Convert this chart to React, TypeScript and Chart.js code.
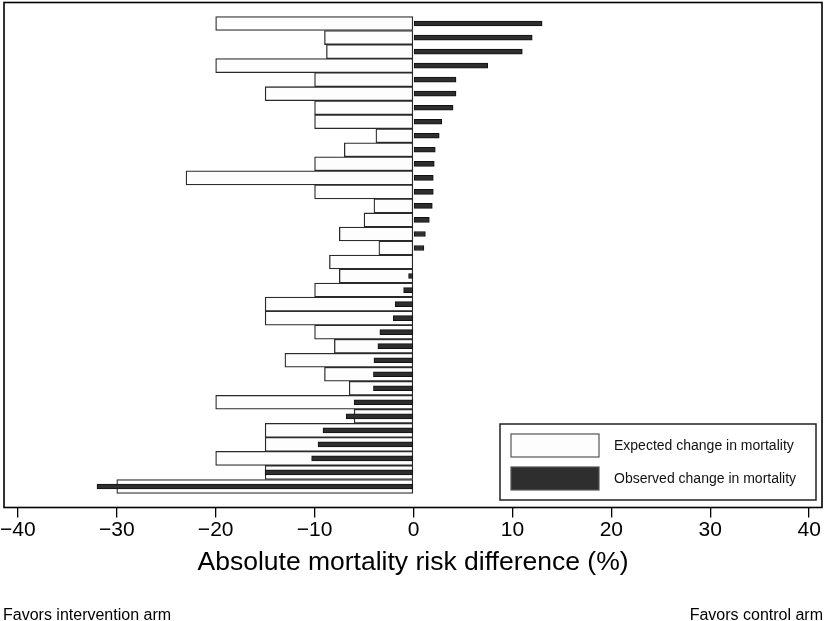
import { useEffect, useRef } from 'react';
import { Chart, registerables } from 'chart.js';

Chart.register(...registerables);

// Expected (white) and observed (black) absolute mortality risk differences, %, one per trial (top to bottom)
const expectedChange = [
  -20, -9, -8.8, -20, -10, -15, -10, -10, -3.8, -7, -10, -23, -10, -4, -5, -7.5, -3.5,
  -8.5, -7.5, -10, -15, -15, -10, -8, -13, -9, -6.5, -20, -6, -15, -15, -20, -15, -30,
];
const observedChange = [
  13, 12, 11, 7.5, 4.3, 4.3, 4, 2.85, 2.6, 2.2, 2.1, 2, 2, 1.9, 1.6, 1.2, 1.05,
  0, -0.5, -1, -1.85, -2.05, -3.4, -3.6, -4, -4.05, -4.05, -6, -6.8, -9.15, -9.65, -10.3, -15, -32,
];
const trialRows = expectedChange.map((_, i) => i + 1);
const xTickValues = [-40, -30, -20, -10, 0, 10, 20, 30, 40];
const axisTitle = 'Absolute mortality risk difference (%)';
const leftNote = 'Favors intervention arm';
const rightNote = 'Favors control arm';
const expectedLabel = 'Expected change in mortality';
const observedLabel = 'Observed change in mortality';

const FONT = "'Liberation Sans', Arial, Helvetica, sans-serif";

export default function App() {
  const canvasRef = useRef<HTMLCanvasElement | null>(null);

  useEffect(() => {
    document.body.style.margin = '0';
    const canvas = canvasRef.current;
    if (!canvas) return;

    const decorPlugin = {
      id: 'decor',
      afterDraw(chart: any) {
        const ctx = chart.ctx as CanvasRenderingContext2D;
        const { left, right, top, bottom } = chart.chartArea;
        ctx.save();
        // frame
        ctx.strokeStyle = '#000';
        ctx.lineWidth = 1.6;
        ctx.strokeRect(left, top, right - left, bottom - top);

        // legend
        const exp = chart.data.datasets[1];
        const obs = chart.data.datasets[0];
        const bx = right - 322;
        const by = bottom - 83.5;
        ctx.fillStyle = '#fff';
        ctx.fillRect(bx, by, 316, 76);
        ctx.lineWidth = 1.5;
        ctx.strokeStyle = '#222';
        ctx.strokeRect(bx, by, 316, 76);
        const items = [exp, obs];
        items.forEach((ds: any, i: number) => {
          const sy = by + 10 + i * 33;
          ctx.fillStyle = ds.backgroundColor;
          ctx.fillRect(bx + 11, sy, 88, 23);
          ctx.lineWidth = 1.2;
          ctx.strokeStyle = '#555';
          ctx.strokeRect(bx + 11, sy, 88, 23);
          ctx.fillStyle = '#111';
          ctx.font = `14px ${FONT}`;
          ctx.textBaseline = 'middle';
          ctx.textAlign = 'left';
          ctx.fillText(ds.label, bx + 114, sy + 12.5);
        });

        // notes
        ctx.fillStyle = '#000';
        ctx.font = `16px ${FONT}`;
        ctx.textBaseline = 'alphabetic';
        ctx.textAlign = 'left';
        ctx.fillText(leftNote, 3, 620);
        ctx.textAlign = 'right';
        ctx.fillText(rightNote, 823, 620);
        ctx.restore();
      },
    };

    const chart = new Chart(canvas, {
      type: 'bar',
      data: {
        datasets: [
          {
            label: observedLabel,
            data: trialRows.map((r, i) => ({ x: observedChange[i], y: r })),
            backgroundColor: '#2e2e2e',
            borderColor: '#111',
            borderWidth: 1,
            borderSkipped: false,
            barThickness: 5,
            grouped: false,
            order: 0,
          } as any,
          {
            label: expectedLabel,
            data: trialRows.map((r, i) => ({ x: expectedChange[i], y: r })),
            backgroundColor: '#fdfdfd',
            borderColor: '#2a2a2a',
            borderWidth: 1.3,
            borderSkipped: false,
            barThickness: 14,
            grouped: false,
            order: 1,
          } as any,
        ],
      },
      options: {
        indexAxis: 'y',
        responsive: false,
        animation: false,
        layout: { padding: { left: 3, right: 3, top: 2.5, bottom: 0 } },
        plugins: {
          legend: { display: false },
          tooltip: { enabled: false },
        },
        scales: {
          y: {
            type: 'linear',
            min: -0.5,
            max: 35.5,
            reverse: true,
            offset: false,
            grace: 0,
            display: false,
            grid: { offset: false },
          },
          x: {
            type: 'linear',
            position: 'bottom',
            min: -41.4,
            max: 41.3,
            afterBuildTicks: (s: any) => {
              s.ticks = xTickValues.map((v) => ({ value: v }));
            },
            afterFit: (s: any) => {
              s.height = 113.5;
            },
            ticks: {
              autoSkip: false,
              maxRotation: 0,
              padding: 0,
              color: '#000',
              font: { family: FONT, size: 21 },
              callback: (v: any) => String(v).replace('-', '\u2212'),
            },
            grid: {
              display: true,
              drawOnChartArea: false,
              drawTicks: true,
              tickLength: 10,
              color: '#000',
              lineWidth: 1.3,
            },
            border: { display: false },
            title: {
              display: true,
              text: axisTitle,
              color: '#000',
              font: { family: FONT, size: 26.5 },
              padding: { top: 0, bottom: 42 },
            },
          },
        },
      } as any,
      plugins: [decorPlugin],
    });

    return () => chart.destroy();
  }, []);

  return (
    <div style={{ position: 'relative', width: 825, height: 621, background: '#fff' }}>
      <canvas ref={canvasRef} width={825} height={621} style={{ display: 'block' }} />
    </div>
  );
}
